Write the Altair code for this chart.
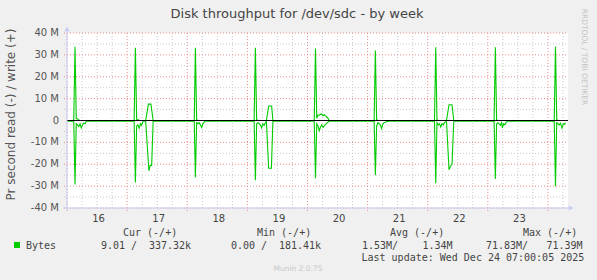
import altair as alt
import pandas as pd

# ---- data (hours since Dec 16 00:00, values in MB/s) ----
write_t = [0, 2.7, 3.2, 3.7, 4.2, 4.7, 5.2,
           26.8, 27.3, 27.8, 28.3, 28.8, 31.4, 32.5, 33.5, 34.4,
           50.8, 51.25, 51.75, 52.25,
           74.7, 75.2, 75.7, 76.2, 79.6, 80.5, 81.7, 82.2,
           98.7, 99.2, 99.7, 100.2, 100.7, 101.2, 101.7, 102.2, 102.7, 103.2, 103.7, 104.2, 104.7,
           122.6, 123.1, 123.6, 124.1,
           146.7, 147.2, 147.7, 148.2, 151.5, 152.5, 153.7, 154.4,
           170.5, 171.0, 171.5, 172.0,
           194.5, 195.0, 195.5, 196.0, 199.0]
write_v = [0, 0, 33.7, 0.8, 0.8, 0.2, 0,
           0, 33.2, 0.6, 0.5, 0, 0, 7.5, 7.5, 0,
           0, 33.2, 0.5, 0,
           0, 33.2, 0.5, 0, 0, 6.6, 6.6, 0,
           0, 32.9, 1.0, 2.5, 2.4, 2.8, 2.9, 2.2, 2.6, 2.1, 1.6, 1.0, 0,
           0, 32.0, 0.5, 0,
           0, 33.5, 0.3, 0, 0, 7.2, 7.2, 0,
           0, 33.5, 0.3, 0,
           0, 33.8, 0.5, 0, 0]

read_t = [0, 2.7, 3.2, 3.7, 4.2, 4.7, 5.2, 5.7, 6.2, 6.7, 7.2, 7.7,
          26.8, 27.3, 27.8, 28.3, 28.8, 29.3, 29.8, 30.3, 30.8, 31.4, 32.7, 33.2, 33.8, 34.4,
          50.8, 51.25, 51.75, 52.25, 52.75, 53.25, 53.75, 54.25, 54.75, 55.25,
          74.7, 75.2, 75.7, 76.2, 76.7, 77.2, 77.7, 78.2, 78.7, 79.2, 79.6, 80.5, 81.6, 82.2,
          98.7, 99.2, 99.7, 100.2, 100.7, 101.2, 101.7, 102.2, 102.7, 103.2, 103.7, 104.2, 104.7,
          122.6, 123.1, 123.6, 124.1, 124.6, 125.1, 125.6, 126.1, 126.6, 127.1, 127.6, 128.6,
          146.7, 147.2, 147.7, 148.2, 148.7, 149.2, 149.7, 150.2, 150.7, 151.2, 151.5, 152.5, 153.0, 153.7, 154.4,
          170.5, 171.0, 171.5, 172.0, 172.5, 173.0, 173.5, 173.8, 174.3, 174.8, 175.3, 175.8,
          194.5, 195.0, 195.5, 196.0, 196.5, 197.0, 197.6, 198.1, 198.6, 199.0]
read_v = [-0.3, -0.3, -29.2, -1.5, -2.0, -2.8, -1.5, -3.4, -2.0, -1.2, -1.5, -0.3,
          -0.3, -28.3, -2.5, -2.0, -3.5, -1.5, -2.2, -0.5, -0.3, -0.3, -23.0, -20.5, -20.5, -0.3,
          -0.3, -26.0, -1.0, -1.5, -1.0, -2.0, -3.2, -1.5, -0.8, -0.3,
          -0.3, -27.3, -1.5, -1.0, -1.5, -2.0, -3.4, -1.5, -2.2, -1.0, -0.3, -21.8, -21.8, -0.3,
          -0.3, -26.4, -1.5, -2.5, -4.7, -3.0, -2.0, -3.2, -2.5, -1.8, -1.2, -0.8, -0.3,
          -0.3, -25.0, -2.5, -1.0, -1.5, -2.0, -3.7, -1.5, -1.0, -0.8, -0.5, -0.3,
          -0.3, -28.7, -1.0, -2.0, -1.5, -3.0, -1.5, -2.0, -1.0, -0.5, -0.3, -22.5, -21.0, -20.0, -0.3,
          -0.3, -26.7, -1.5, -1.0, -1.5, -2.2, -1.0, -3.4, -1.5, -2.0, -0.8, -0.3,
          -0.3, -30.0, -1.0, -1.5, -2.0, -1.2, -3.5, -1.5, -1.8, -1.0]

day_labels = [16, 17, 18, 19, 20, 21, 22, 23]
y_ticks = [-40, -30, -20, -10, 0, 10, 20, 30, 40]
y_major_grid = [-40, -30, -20, -10, 10, 20, 30, 40]
y_minor_grid = [-35, -25, -15, -5, 5, 15, 25, 35]
x_major_grid = [0, 24, 48, 72, 96, 120, 144, 168, 192]
x_minor_grid = [h for d in x_major_grid for h in (d + 6, d + 12, d + 18) if h < 200]

W, H = 501, 175
XD = [0, 200]
YD = [-40, 40]

df = pd.concat([
    pd.DataFrame({"t": write_t, "v": write_v, "s": "write"}),
    pd.DataFrame({"t": read_t, "v": read_v, "s": "read"}),
])

xs = alt.Scale(domain=XD, nice=False, zero=False)
ys = alt.Scale(domain=YD, nice=False, zero=False)

GREEN = "#00cc00"
AXC = "#c8ccf4"
MONO = "DejaVu Sans Mono"
SANS = "DejaVu Sans"

ygrid_min = alt.Chart(pd.DataFrame({"g": y_minor_grid})).mark_rule(
    color="#c8c8c8", strokeDash=[1, 2], strokeWidth=1).encode(
    y=alt.Y("g:Q", scale=ys, axis=None), x=alt.value(-3), x2=alt.value(W))
ygrid_maj = alt.Chart(pd.DataFrame({"g": y_major_grid})).mark_rule(
    color="#f08a8a", strokeDash=[1, 2], strokeWidth=1).encode(
    y=alt.Y("g:Q", scale=ys, axis=None), x=alt.value(-3), x2=alt.value(W))
xgrid_min = alt.Chart(pd.DataFrame({"g": x_minor_grid})).mark_rule(
    color="#c8c8c8", strokeDash=[1, 2], strokeWidth=1).encode(
    x=alt.X("g:Q", scale=xs, axis=None), y=alt.value(0), y2=alt.value(H + 2))
xgrid_maj = alt.Chart(pd.DataFrame({"g": x_major_grid})).mark_rule(
    color="#f08a8a", strokeDash=[1, 2], strokeWidth=1).encode(
    x=alt.X("g:Q", scale=xs, axis=None), y=alt.value(0), y2=alt.value(H + 3))

lines = alt.Chart(df).mark_line(color=GREEN, strokeWidth=1.1).encode(
    x=alt.X("t:Q", scale=xs, axis=None),
    y=alt.Y("v:Q", scale=ys, axis=None),
    detail="s:N", order="t:Q")

zero = alt.Chart(pd.DataFrame({"z": [0]})).mark_rule(color="#000000", strokeWidth=1).encode(
    y=alt.Y("z:Q", scale=ys, axis=None), x=alt.value(0), x2=alt.value(W))

# tick labels drawn through the scales
ylab_df = pd.DataFrame({"v": y_ticks,
                        "lab": ["0" if v == 0 else "%d M" % v for v in y_ticks]})
ylabels = alt.Chart(ylab_df).mark_text(font=SANS, fontSize=10, color="#555",
                                       align="right", baseline="middle").encode(
    y=alt.Y("v:Q", scale=ys, axis=None), x=alt.value(-8), text="lab:N")

xlab_df = pd.DataFrame({"t": [24 * i + 12.6 for i in range(len(day_labels))],
                        "lab": [str(d) for d in day_labels]})
xlabels = alt.Chart(xlab_df).mark_text(font=SANS, fontSize=10, color="#444",
                                       align="center", baseline="alphabetic").encode(
    x=alt.X("t:Q", scale=xs, axis=None), y=alt.value(222 - 33), text="lab:N")

one = alt.Data(values=[{}])
yaxis_line = alt.Chart(one).mark_rule(color=AXC, strokeWidth=1).encode(
    x=alt.value(0), y=alt.value(-5), y2=alt.value(H + 2))
xaxis_line = alt.Chart(one).mark_rule(color=AXC, strokeWidth=1).encode(
    y=alt.value(H), x=alt.value(-4), x2=alt.value(W + 2))
arrow_up = alt.Chart(one).mark_point(shape="triangle-up", filled=True, color=AXC,
                                     size=28, opacity=1).encode(
    x=alt.value(0), y=alt.value(-4))
arrow_right = alt.Chart(one).mark_point(shape="triangle-right", filled=True, color=AXC,
                                        size=28, opacity=1).encode(
    x=alt.value(W + 3), y=alt.value(H))


def txt(s, x, y, font=MONO, size=10, color="#444", angle=0, align="left", baseline="alphabetic"):
    return alt.Chart(one).mark_text(text=s, font=font, fontSize=size, color=color,
                                    angle=angle, align=align, baseline=baseline).encode(
        x=alt.value(x - 67), y=alt.value(y - 33))


texts = [
    txt("Disk throughput for /dev/sdc - by week", 297, 18, font=SANS, size=13,
        color="#444", align="center"),
    txt("Pr second read (-) / write (+)", 15, 114.5, font=SANS, size=12, color="#555",
        angle=270, align="center", baseline="alphabetic"),
    txt("RRDTOOL / TOBI OETIKER", 584, 57, font=SANS, size=7.5, color="#c4c4c4",
        angle=90, align="center", baseline="middle"),
    txt("Cur (-/+)", 123, 236), txt("Min (-/+)", 257, 236),
    txt("Avg (-/+)", 390, 236), txt("Max (-/+)", 523, 236),
    txt("Bytes", 26, 248.5),
    txt("9.01 /", 101, 248.5), txt("337.32k", 149, 248.5),
    txt("0.00 /", 231, 248.5), txt("181.41k", 279, 248.5),
    txt("1.53M/", 362, 248.5), txt("1.34M", 422.5, 248.5),
    txt("71.83M/", 486, 248.5), txt("71.39M", 546.5, 248.5),
    txt("Last update: Wed Dec 24 07:00:05 2025", 361.5, 260.5),
    txt("Munin 2.0.75", 298, 271, font=SANS, size=7.5, color="#c8c8c8", align="center"),
]

swatch = alt.Chart(one).mark_square(color=GREEN, size=36, opacity=1, filled=True).encode(
    x=alt.value(17 - 67), y=alt.value(245 - 33))

chart = alt.layer(
    ygrid_min, xgrid_min, ygrid_maj, xgrid_maj, lines, zero,
    yaxis_line, xaxis_line, arrow_up, arrow_right, ylabels, xlabels, swatch, *texts
).properties(
    width=W, height=H,
    autosize=alt.AutoSizeParams(type="none"),
    padding={"left": 67, "top": 33, "right": 597 - 67 - W, "bottom": 280 - 33 - H},
    background="#f0f0f0",
).configure_view(fill="white", stroke=None)

chart.save("out.html", embed_options={"renderer": "svg", "actions": False})
